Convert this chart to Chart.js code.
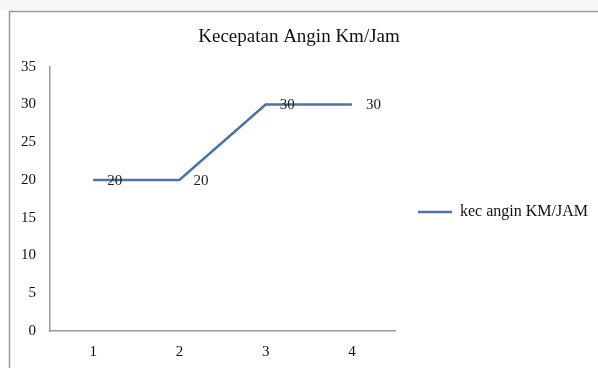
<!DOCTYPE html>
<html>
<head>
<meta charset="utf-8">
<script src="https://cdn.jsdelivr.net/npm/chart.js@4/dist/chart.umd.min.js"></script>
<style>
  html, body { margin: 0; padding: 0; background: #fff; }
  #wrap { width: 598px; height: 368px; }
</style>
</head>
<body>
<div id="wrap"><canvas id="c" width="598" height="368"></canvas></div>
<script>
// data
const categories = ['1', '2', '3', '4'];
const kecAngin = [20, 20, 30, 30];
const seriesName = 'kec angin KM/JAM';
const chartTitle = 'Kecepatan Angin Km/Jam';
const yTicks = [0, 5, 10, 15, 20, 25, 30, 35];

const serif = "'Liberation Serif', 'Times New Roman', serif";
const lineColor = '#4a72ab';

// bingkai luar grafik
const frame = {
  id: 'frame',
  beforeDraw(chart) {
    const ctx = chart.ctx;
    ctx.save();
    ctx.fillStyle = '#f7f7f7';
    ctx.fillRect(0, 0, chart.width, 10);
    ctx.strokeStyle = '#9a9a9a';
    ctx.lineWidth = 1.5;
    ctx.beginPath();
    ctx.moveTo(9.5, chart.height);
    ctx.lineTo(9.5, 11.5);
    ctx.lineTo(chart.width, 11.5);
    ctx.stroke();
    ctx.restore();
  },
};

// label nilai di kanan setiap titik
const valueLabels = {
  id: 'valueLabels',
  afterDatasetsDraw(chart) {
    const ctx = chart.ctx;
    const meta = chart.getDatasetMeta(0);
    ctx.save();
    ctx.font = '15px ' + serif;
    ctx.fillStyle = '#222';
    ctx.textAlign = 'left';
    ctx.textBaseline = 'middle';
    meta.data.forEach((pt, i) => {
      ctx.fillText(String(kecAngin[i]), pt.x + 14, pt.y + 1);
    });
    ctx.restore();
  },
};

new Chart(document.getElementById('c'), {
  type: 'line',
  data: {
    labels: categories,
    datasets: [{
      label: seriesName,
      data: kecAngin,
      borderColor: lineColor,
      backgroundColor: lineColor,
      borderWidth: 2.5,
      pointRadius: 0,
      tension: 0,
    }],
  },
  options: {
    responsive: false,
    animation: false,
    layout: { padding: { left: 0, right: 0, top: 15, bottom: 7 } },
    plugins: {
      title: {
        display: true,
        text: chartTitle,
        color: '#111',
        font: { family: serif, size: 19, weight: 'normal' },
        padding: { top: 11, bottom: 18 },
      },
      legend: {
        position: 'right',
        maxWidth: 203,
        // judul kosong hanya untuk menggeser legenda sedikit ke bawah
        title: { display: true, text: '', padding: 0, font: { size: 40 } },
        labels: {
          color: '#111',
          font: { family: serif, size: 16 },
          usePointStyle: true,
          pointStyle: 'line',
          pointStyleWidth: 34,
          boxHeight: 2,
          padding: 23,
        },
      },
      tooltip: { enabled: false },
    },
    scales: {
      x: {
        offset: true,
        afterFit(scale) { scale.height = 30; },
        grid: { display: false, drawTicks: false },
        border: { color: '#9a9a9a', width: 1.5 },
        ticks: { color: '#111', font: { family: serif, size: 15 }, padding: 12, maxRotation: 0 },
      },
      y: {
        min: 0,
        max: 35,
        afterBuildTicks(scale) { scale.ticks = yTicks.map(v => ({ value: v })); },
        afterFit(scale) { scale.width = 50; },
        grid: { display: false, drawTicks: false },
        border: { color: '#9a9a9a', width: 1.5 },
        ticks: { color: '#111', font: { family: serif, size: 15 }, padding: 14 },
      },
    },
  },
  plugins: [frame, valueLabels],
});
</script>
</body>
</html>
